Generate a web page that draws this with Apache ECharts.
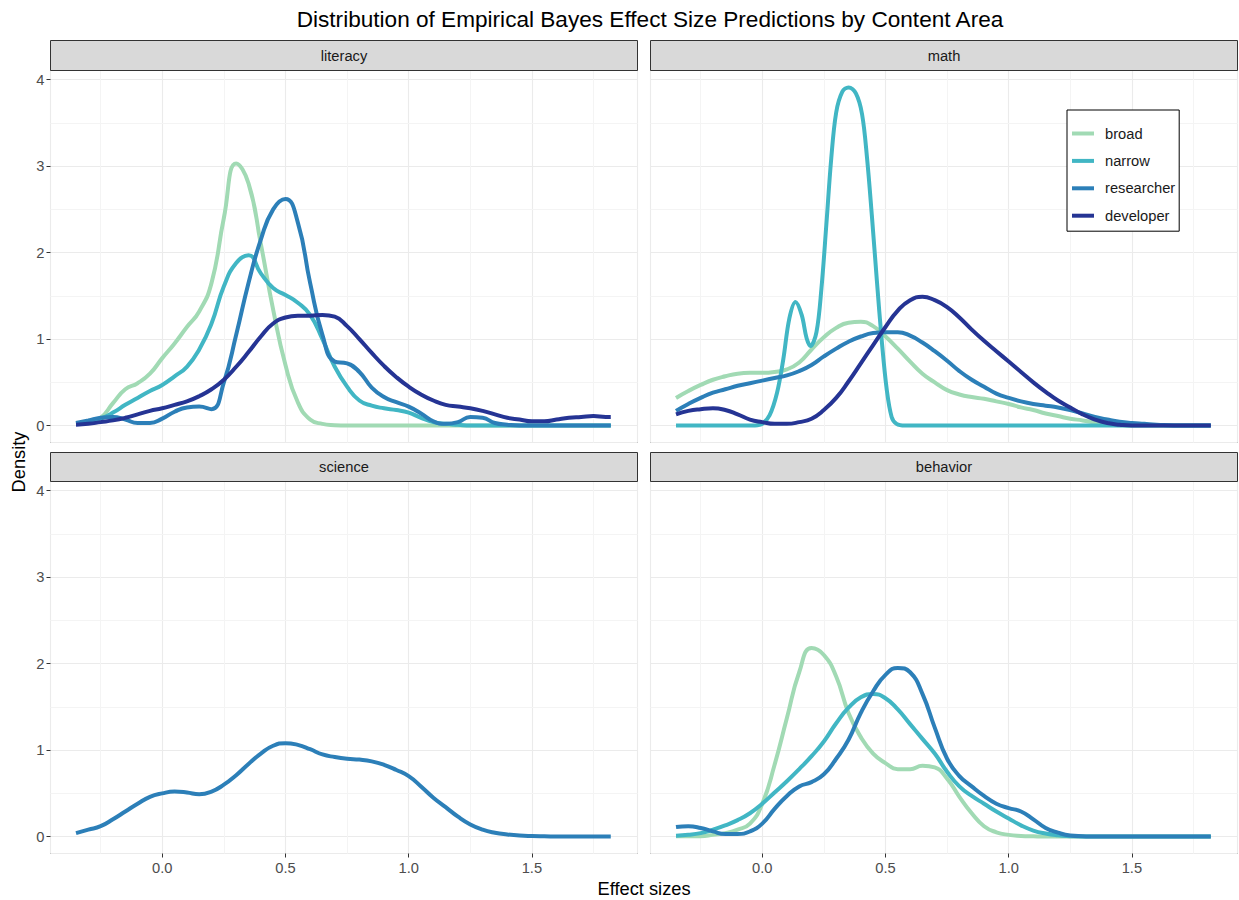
<!DOCTYPE html>
<html>
<head>
<meta charset="utf-8">
<script src="https://cdn.jsdelivr.net/npm/echarts@6/dist/echarts.min.js"></script>
<style>html,body{margin:0;padding:0;background:#fff;}#chart{width:1239px;height:900px;}</style>
</head>
<body>
<div id="chart"></div>
<script>
// ---- data ----
const effectSizes = [-0.35,-0.30,-0.25,-0.20,-0.15,-0.10,-0.05,0.00,0.05,0.10,0.15,0.20,0.25,0.30,0.35,0.40,0.45,0.50,0.55,0.60,0.65,0.70,0.75,0.80,0.85,0.90,0.95,1.00,1.05,1.10,1.15,1.20,1.25,1.30,1.35,1.40,1.45,1.50,1.55,1.60,1.65,1.70,1.75,1.80,1.82];
const panels = ['literacy','math','science','behavior'];
const groups = ['broad','narrow','researcher','developer'];
const groupColors = ['#a1dab4','#41b6c4','#2c7fb8','#253494'];
const xTicks = [0.0, 0.5, 1.0, 1.5];
const xMinorTicks = [-0.25, 0.25, 0.75, 1.25, 1.75];
const yTicks = [0, 1, 2, 3, 4];
const yMinorTicks = [0.5, 1.5, 2.5, 3.5];

const literacyBroad = [0.02,0.04,0.09,0.26,0.42,0.49,0.60,0.78,0.95,1.14,1.32,1.65,2.40,3.03,2.80,2.10,1.34,0.70,0.27,0.07,0.02,0.005,0,0,0,0,0,0,0,0,0,0,0,0,0,0,0,0,0,0,0,0,0,0,0];
const literacyNarrow = [0.02,0.04,0.08,0.15,0.24,0.32,0.40,0.47,0.57,0.68,0.88,1.18,1.61,1.88,1.97,1.76,1.59,1.51,1.42,1.28,1.00,0.68,0.45,0.29,0.23,0.20,0.18,0.15,0.09,0.04,0.02,0.01,0,0,0,0,0,0,0,0,0,0,0,0,0];
const literacyResearcher = [0.03,0.06,0.09,0.10,0.07,0.03,0.03,0.08,0.16,0.21,0.22,0.19,0.50,1.05,1.65,2.15,2.50,2.62,2.35,1.65,1.05,0.74,0.72,0.62,0.44,0.33,0.27,0.22,0.14,0.05,0.02,0.04,0.10,0.09,0.03,0.01,0,0,0,0,0,0,0,0,0];
const literacyDeveloper = [0.01,0.02,0.04,0.06,0.09,0.13,0.17,0.20,0.24,0.28,0.34,0.42,0.53,0.68,0.85,1.03,1.18,1.25,1.27,1.27,1.28,1.26,1.15,1.00,0.84,0.69,0.56,0.45,0.36,0.29,0.24,0.22,0.20,0.17,0.13,0.09,0.07,0.05,0.05,0.07,0.09,0.10,0.11,0.10,0.10];

const mathBroad = [0.32,0.40,0.47,0.53,0.57,0.60,0.61,0.61,0.62,0.65,0.73,0.88,1.02,1.13,1.19,1.20,1.15,1.03,0.89,0.74,0.60,0.50,0.41,0.36,0.33,0.31,0.28,0.25,0.21,0.18,0.14,0.11,0.08,0.06,0.035,0.015,0.005,0,0,0,0,0,0,0,0];
const mathNarrowX = [-0.35,-0.2,-0.1,-0.03,0.0,0.03,0.06,0.085,0.11,0.135,0.16,0.18,0.196,0.22,0.24,0.26,0.28,0.30,0.325,0.35,0.38,0.405,0.425,0.445,0.465,0.485,0.505,0.525,0.545,0.58,0.7,1.0,1.4,1.82];
const mathNarrow = [0,0,0,0.002,0.02,0.12,0.38,0.76,1.24,1.43,1.28,1.01,0.92,1.08,1.58,2.32,3.09,3.62,3.86,3.91,3.84,3.6,3.1,2.42,1.68,0.98,0.42,0.1,0.02,0,0,0,0,0];
const mathResearcher = [0.17,0.25,0.32,0.38,0.42,0.46,0.49,0.52,0.55,0.58,0.63,0.70,0.80,0.89,0.97,1.03,1.07,1.08,1.08,1.04,0.96,0.86,0.75,0.63,0.53,0.45,0.37,0.32,0.28,0.25,0.23,0.21,0.18,0.14,0.10,0.07,0.045,0.03,0.02,0.01,0.005,0,0,0,0];
const mathDeveloper = [0.13,0.17,0.19,0.20,0.18,0.13,0.07,0.04,0.02,0.02,0.04,0.08,0.18,0.32,0.51,0.72,0.93,1.14,1.33,1.45,1.49,1.45,1.37,1.25,1.11,0.98,0.86,0.74,0.62,0.50,0.39,0.29,0.21,0.13,0.07,0.03,0.01,0,0,0,0,0,0,0,0];

const scienceResearcher = [0.04,0.08,0.12,0.20,0.29,0.38,0.46,0.50,0.52,0.51,0.49,0.52,0.60,0.71,0.84,0.96,1.05,1.08,1.06,1.01,0.95,0.92,0.90,0.89,0.87,0.83,0.77,0.70,0.58,0.45,0.34,0.23,0.14,0.08,0.045,0.025,0.012,0.006,0.003,0.001,0,0,0,0,0];

const behaviorBroad = [0.005,0.005,0.005,0.02,0.04,0.08,0.15,0.38,0.83,1.37,1.90,2.18,2.10,1.85,1.43,1.15,0.96,0.85,0.78,0.78,0.82,0.80,0.67,0.46,0.27,0.12,0.05,0.02,0.008,0.003,0,0,0,0,0,0,0,0,0,0,0,0,0,0,0];
const behaviorNarrow = [0.01,0.02,0.04,0.08,0.13,0.19,0.27,0.38,0.51,0.64,0.78,0.93,1.10,1.31,1.49,1.61,1.65,1.60,1.47,1.30,1.13,0.96,0.75,0.58,0.47,0.38,0.29,0.21,0.13,0.07,0.035,0.015,0.005,0,0,0,0,0,0,0,0,0,0,0,0];
const behaviorResearcher = [0.11,0.12,0.10,0.06,0.03,0.03,0.06,0.15,0.32,0.47,0.58,0.63,0.72,0.90,1.12,1.43,1.68,1.87,1.95,1.90,1.65,1.26,0.90,0.70,0.58,0.47,0.38,0.33,0.29,0.20,0.10,0.045,0.012,0.004,0,0,0,0,0,0,0,0,0,0,0];

// panel index, group index, x values, y values
const seriesSpec = [
  [0,0,effectSizes,literacyBroad],[0,1,effectSizes,literacyNarrow],[0,2,effectSizes,literacyResearcher],[0,3,effectSizes,literacyDeveloper],
  [1,0,effectSizes,mathBroad],[1,1,mathNarrowX,mathNarrow],[1,2,effectSizes,mathResearcher],[1,3,effectSizes,mathDeveloper],
  [2,2,effectSizes,scienceResearcher],
  [3,0,effectSizes,behaviorBroad],[3,1,effectSizes,behaviorNarrow],[3,2,effectSizes,behaviorResearcher]
];

// ---- layout ----
const FONT = "'Liberation Sans', Arial, sans-serif";
const panelLeft = [50.5, 650.5, 50.5, 650.5];
const panelTop = [70.5, 70.5, 481.5, 481.5];
const panelW = 587, panelH = 372, stripH = 30;
const X_MIN = -0.4535, X_MAX = 1.9285, Y_MIN = -0.1955, Y_MAX = 4.1055;

const chart = echarts.init(document.getElementById('chart'), null, {renderer: 'svg'});

const grids = [], xAxes = [], yAxes = [], series = [], graphics = [];
panels.forEach((p, i) => {
  const isLeft = (i % 2 === 0), isBottom = (i >= 2);
  grids.push({left: panelLeft[i], top: panelTop[i], width: panelW, height: panelH,
    show: true, borderColor: '#333333', borderWidth: 1, backgroundColor: '#ffffff', containLabel: false});
  xAxes.push({type: 'value', gridIndex: i, min: X_MIN, max: X_MAX, splitNumber: 5, position: 'bottom',
    axisLine: {show: false, onZero: false},
    axisTick: {show: isBottom, length: 4, lineStyle: {color: '#333333', width: 1}},
    axisLabel: {show: isBottom, showMinLabel: false, showMaxLabel: false, margin: 7,
      color: '#4d4d4d', fontSize: 14.7, fontFamily: FONT,
      formatter: v => xTicks.some(t => Math.abs(t - v) < 1e-6) ? v.toFixed(1) : ''},
    splitLine: {show: true, lineStyle: {color: '#ebebeb', width: 1.1}}});
  yAxes.push({type: 'value', gridIndex: i, min: Y_MIN, max: Y_MAX, splitNumber: 5, position: 'left',
    axisLine: {show: false, onZero: false},
    axisTick: {show: isLeft, length: 4, lineStyle: {color: '#333333', width: 1}},
    axisLabel: {show: isLeft, showMinLabel: false, showMaxLabel: false, margin: 6,
      color: '#4d4d4d', fontSize: 14.7, fontFamily: FONT,
      formatter: v => yTicks.some(t => Math.abs(t - v) < 1e-6) ? String(Math.round(v)) : ''},
    splitLine: {show: true, lineStyle: {color: '#ebebeb', width: 1.1}}});
  // minor grid lines
  series.push({type: 'line', xAxisIndex: i, yAxisIndex: i, data: [], z: 1, silent: true,
    markLine: {silent: true, z: 1, symbol: ['none','none'], animation: false, label: {show: false},
      lineStyle: {color: '#f4f4f4', width: 1, type: 'solid'},
      emphasis: {disabled: true},
      data: xMinorTicks.map(v => ({xAxis: v})).concat(yMinorTicks.map(v => ({yAxis: v})))}});
  // strip
  graphics.push({type: 'rect', shape: {x: panelLeft[i], y: panelTop[i] - stripH + (i >= 2 ? 1 : 0), width: panelW, height: stripH - (i >= 2 ? 1 : 0)},
    style: {fill: '#d9d9d9', stroke: '#333333', lineWidth: 1}, z: 10});
  graphics.push({type: 'text', x: panelLeft[i] + panelW / 2, y: panelTop[i] - stripH / 2 + (i >= 2 ? 0.5 : 0),
    style: {text: p, fill: '#1a1a1a', font: '14.7px ' + FONT, textAlign: 'center', textVerticalAlign: 'middle'}, z: 11});
});

seriesSpec.forEach(([pi, gi, xs, ys]) => {
  series.push({name: groups[gi], type: 'line', xAxisIndex: pi, yAxisIndex: pi,
    data: xs.map((x, k) => [x, ys[k]]),
    smooth: (pi === 1 && gi === 1) ? 0.35 : 0.5,
    showSymbol: false, symbol: 'none', z: 3 + gi,
    lineStyle: {width: 4, color: groupColors[gi], cap: 'butt', join: 'round'},
    itemStyle: {color: groupColors[gi]},
    emphasis: {disabled: true}, animation: false});
});

graphics.push({type: 'text', x: 644, y: 888, style: {text: 'Effect sizes', fill: '#000', font: '18.3px ' + FONT, textAlign: 'center', textVerticalAlign: 'middle'}});
graphics.push({type: 'text', x: 18, y: 462, rotation: Math.PI / 2,
  style: {text: 'Density', fill: '#000', font: '18.3px ' + FONT, textAlign: 'center', textVerticalAlign: 'middle'}});

chart.setOption({
  animation: false,
  backgroundColor: '#ffffff',
  title: {text: 'Distribution of Empirical Bayes Effect Size Predictions by Content Area',
    left: 645, top: 3, textAlign: 'center',
    textStyle: {fontFamily: FONT, fontSize: 22.6, fontWeight: 'normal', color: '#000'}},
  legend: {data: groups, orient: 'vertical', left: 1067, top: 110, z: 20,
    backgroundColor: '#ffffff', borderColor: '#000000', borderWidth: 1,
    padding: [16, 4, 8, 5], itemGap: 12.4, itemWidth: 22, itemHeight: 4, icon: 'rect',
    textStyle: {fontFamily: FONT, fontSize: 14.7, color: '#1a1a1a', padding: [0, 0, 0, 6]},
    selectedMode: false},
  grid: grids, xAxis: xAxes, yAxis: yAxes, series: series,
  graphic: graphics
});
</script>
</body>
</html>
